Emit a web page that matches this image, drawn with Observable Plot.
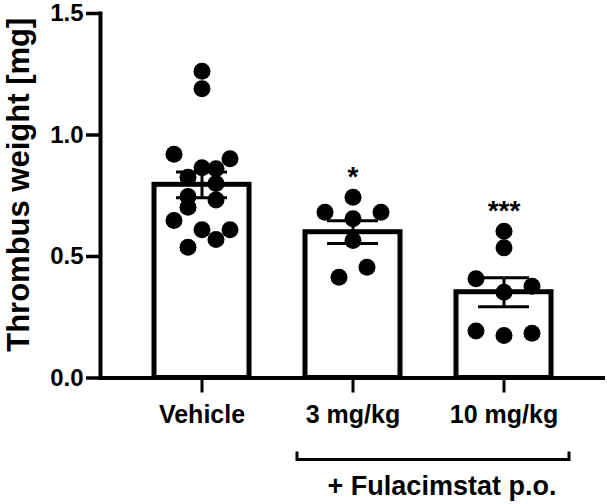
<!DOCTYPE html>
<html><head><meta charset="utf-8">
<script src="https://cdn.jsdelivr.net/npm/d3@7"></script>
<script src="https://cdn.jsdelivr.net/npm/@observablehq/plot@0.6"></script>
<style>body{margin:0;background:#fff}</style>
</head><body><div id="chart"></div>
<script>
// ---- data ----
const groups = ["Vehicle", "3 mg/kg", "10 mg/kg"];
const vehicle = [1.262, 1.19, 0.921, 0.902, 0.865, 0.861, 0.826, 0.80, 0.747, 0.733, 0.703, 0.648, 0.61, 0.61, 0.57, 0.538];
const mg3 = [0.744, 0.682, 0.682, 0.655, 0.566, 0.456, 0.415];
const mg10 = [0.604, 0.536, 0.408, 0.378, 0.353, 0.193, 0.184, 0.175];
const means = [0.795, 0.600, 0.353];
const sems = [0.053, 0.047, 0.060];
const stars = ["", "*", "***"];
const yTicks = [0, 0.5, 1.0, 1.5];
const yLabel = "Thrombus weight [mg]";
const groupLabel = "+ Fulacimstat p.o.";

const series = [vehicle, mg3, mg10];
const points = groups.flatMap((g, i) => series[i].map(v => ({group: g, value: v})));
const summary = groups.map((g, i) => ({
  group: g, mean: means[i], lo: means[i] - sems[i], hi: means[i] + sems[i],
  star: stars[i], top: d3.max(series[i])
}));

const FONT = "'Liberation Sans', Arial, Helvetica, sans-serif";

// scatter-dot layout (rows of near-equal values spread horizontally), computed in pixel space from the plot's scales
const swarm = Plot.initializer({x: "group", y: "value", r: 8.5, fill: "black"}, (data, facets, channels, scales) => {
  const G = channels.x.value, V = channels.y.value;
  const n = G.length;
  const X = new Float64Array(n), Y = new Float64Array(n);
  const rowGap = 14, colStep = 28;
  const orders = {1: [0], 2: [1, 0], 3: [0, 2, 1]};
  for (const facet of facets) {
    for (const [g, I] of d3.group(facet, i => G[i])) {
      const cx = scales.x(g); // band centre
      const S = Array.from(I).sort((a, b) => V[b] - V[a]);
      const rows = []; let row = null, start = 0;
      for (const i of S) {
        const py = scales.y(V[i]);
        Y[i] = py;
        if (!row || py - start >= rowGap) { row = []; rows.push(row); start = py; }
        row.push(i);
      }
      for (const r of rows) {
        const k = r.length;
        const ord = orders[k] || d3.range(k);
        r.forEach((i, j) => { X[i] = cx + (ord[j] - (k - 1) / 2) * colStep; });
      }
    }
  }
  return {data, facets, channels: {x: {value: X}, y: {value: Y}}};
});

const plot = Plot.plot({
  width: 607, height: 504,
  marginTop: 13, marginRight: 2, marginBottom: 126.5, marginLeft: 100,
  style: {fontFamily: FONT, background: "white", color: "black", overflow: "visible"},
  x: {domain: groups, paddingInner: 0.373, paddingOuter: 0.353},
  y: {domain: [0, 1.5]},
  marks: [
    Plot.barY(summary, {x: "group", y: "mean", fill: "white", stroke: "black", strokeWidth: 5}),
    Plot.ruleX(summary, {x: "group", y1: "lo", y2: "hi", stroke: "black", strokeWidth: 3}),
    Plot.tickY(summary, {x: "group", y: "hi", stroke: "black", strokeWidth: 3, insetLeft: 22, insetRight: 22}),
    Plot.tickY(summary, {x: "group", y: "lo", stroke: "black", strokeWidth: 3, insetLeft: 22, insetRight: 22}),
    Plot.dot(points, swarm),
    Plot.text(summary, {x: "group", y: "top", text: "star", dy: -20, fontSize: 28, fontWeight: "bold", fill: "black"}),
    Plot.ruleY([0], {stroke: "black", strokeWidth: 4}),
    Plot.frame({anchor: "left", stroke: "black", strokeWidth: 4}),
    Plot.axisY({ticks: yTicks, tickFormat: d3.format(".1f"), tickSize: 14, tickPadding: 3, fontSize: 24, fontWeight: "bold", strokeWidth: 3.5, label: null}),
    Plot.axisX({tickSize: 15, tickPadding: 12, fontSize: 25, fontWeight: "bold", strokeWidth: 3, label: null}),
    Plot.text([yLabel], {text: d => d, frameAnchor: "left", textAnchor: "middle", lineAnchor: "middle", rotate: -90, dx: -81, dy: -11, fontSize: 31, fontWeight: "bold", fill: "black"})
  ]
});

document.getElementById("chart").appendChild(plot);

// bracket under the two Fulacimstat groups, placed from the plot's own scales
const xs = plot.scale("x"), ys = plot.scale("y");
const svg = d3.select(plot);
const bw = xs.bandwidth;
const left = xs.apply(groups[1]) - 8;
const right = xs.apply(groups[2]) + bw + 18;
const base = ys.apply(0);
const by = base + 82;
svg.append("path")
  .attr("d", `M${left},${by - 8}V${by}H${right}V${by - 8}`)
  .attr("fill", "none").attr("stroke", "black").attr("stroke-width", 3);
svg.append("text")
  .attr("x", (left + right) / 2 + 9).attr("y", base + 117)
  .attr("text-anchor", "middle").attr("font-size", 27).attr("font-weight", "bold")
  .attr("font-family", FONT).attr("fill", "black")
  .text(groupLabel);
</script>
</body></html>
